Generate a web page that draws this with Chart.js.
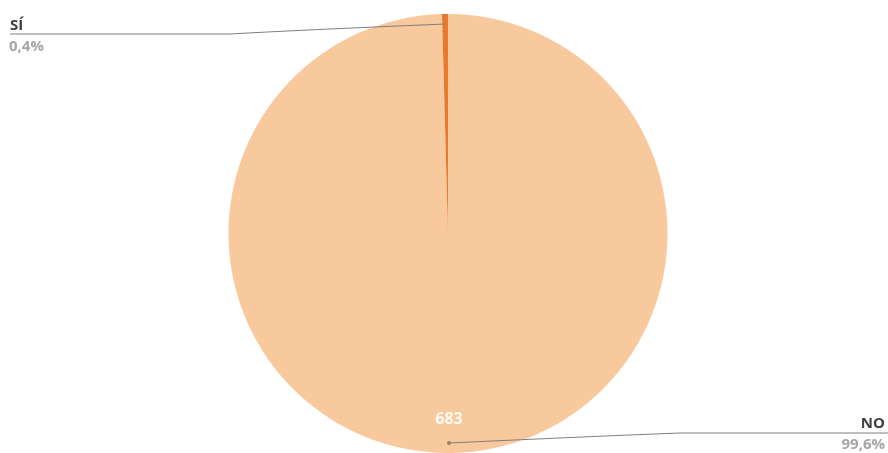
<!DOCTYPE html>
<html>
<head>
<meta charset="utf-8">
<script src="https://cdn.jsdelivr.net/npm/chart.js@4/dist/chart.umd.min.js"></script>
<style>
  html, body { margin: 0; padding: 0; background: #fff; }
  #wrap { width: 888px; height: 453px; position: relative; }
</style>
</head>
<body>
<div id="wrap"><canvas id="myChart"></canvas></div>
<script>
var labels = ['NO', 'SÍ'];
var counts = [683, 3];
var percents = ['99,6%', '0,4%'];
var colors = ['#F8C99C', '#E87A2E'];

// leader lines + outside labels, like the spreadsheet callouts
var calloutPlugin = {
    id: 'callouts',
    afterDatasetsDraw: function (chart) {
        var ctx = chart.ctx;
        var arcs = chart.getDatasetMeta(0).data;
        var W = chart.width;
        ctx.save();
        ctx.strokeStyle = '#7f7f7f';
        ctx.lineWidth = 1;
        ctx.textBaseline = 'alphabetic';

        // SÍ (top left)
        var a = arcs[1];
        var mid = (a.startAngle + a.endAngle) / 2;
        var ax = a.x + Math.cos(mid) * (a.outerRadius - 10);
        var ay = a.y + Math.sin(mid) * (a.outerRadius - 10);
        ctx.beginPath();
        ctx.moveTo(ax, ay);
        ctx.quadraticCurveTo(300, 30, 230, 34);
        ctx.lineTo(10, 34);
        ctx.stroke();
        ctx.textAlign = 'left';
        ctx.fillStyle = '#404040';
        ctx.font = 'bold 15px "Open Sans", sans-serif';
        ctx.fillText(labels[1], 10, 30);
        ctx.fillStyle = '#a6a6a6';
        ctx.font = 'bold 15px "Open Sans", sans-serif';
        ctx.fillText(percents[1], 9, 51);

        // NO (bottom right)
        var b = arcs[0];
        var bx = b.x + 1;
        var by = b.y + b.outerRadius - 10;
        ctx.beginPath();
        ctx.moveTo(bx, by);
        ctx.quadraticCurveTo(600, 436, 680, 433);
        ctx.lineTo(W, 433);
        ctx.stroke();
        ctx.fillStyle = '#a08070';
        ctx.beginPath();
        ctx.arc(bx, by, 2, 0, Math.PI * 2);
        ctx.fill();
        ctx.textAlign = 'right';
        ctx.fillStyle = '#404040';
        ctx.font = 'bold 15px "Open Sans", sans-serif';
        ctx.fillText(labels[0], W - 3, 428);
        ctx.fillStyle = '#a6a6a6';
        ctx.font = 'bold 15px "Open Sans", sans-serif';
        ctx.fillText(percents[0], W - 3, 449);

        // value inside the big slice
        ctx.textAlign = 'center';
        ctx.fillStyle = 'rgba(255,255,255,0.9)';
        ctx.font = 'bold 16px "Open Sans", sans-serif';
        ctx.fillText(String(counts[0]), b.x + 1, b.y + 190);
        ctx.restore();
    }
};

var ctx = document.getElementById('myChart').getContext('2d');
var myChart = new Chart(ctx, {
    type: 'pie',
    data: {
        labels: labels,
        datasets: [{
            data: counts,
            backgroundColor: colors,
            borderWidth: 0
        }]
    },
    options: {
        responsive: true,
        maintainAspectRatio: false,
        animation: false,
        layout: {
            padding: { top: 14, left: 8, right: 0, bottom: 0 }
        },
        plugins: {
            legend: { display: false },
            tooltip: { enabled: false }
        }
    },
    plugins: [calloutPlugin]
});
</script>
</body>
</html>
